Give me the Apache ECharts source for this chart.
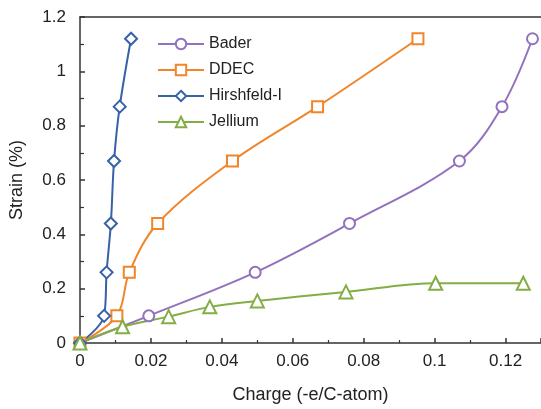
<!DOCTYPE html>
<html>
<head>
<meta charset="utf-8">
<script src="https://cdn.jsdelivr.net/npm/echarts@6/dist/echarts.min.js"></script>
<style>
  html, body { margin: 0; padding: 0; background: #fff; }
  #chart { width: 541px; height: 409px; }
</style>
</head>
<body>
<div id="chart"></div>
<script>
// charge (-e/C-atom) vs strain (%) for each charge scheme
const baderX = [0, 0.0194, 0.0494, 0.076, 0.107, 0.119, 0.1276];
const baderY = [0, 0.10, 0.26, 0.44, 0.67, 0.87, 1.12];
const ddecX = [0, 0.0104, 0.0139, 0.0219, 0.043, 0.067, 0.0953];
const ddecY = [0, 0.10, 0.26, 0.44, 0.67, 0.87, 1.12];
const hirshX = [0, 0.0068, 0.0075, 0.0087, 0.0096, 0.0112, 0.0144];
const hirshY = [0, 0.10, 0.26, 0.44, 0.67, 0.87, 1.12];
const jelliumX = [0, 0.012, 0.025, 0.0366, 0.050, 0.075, 0.1003, 0.125];
const jelliumY = [0, 0.06, 0.097, 0.133, 0.155, 0.188, 0.22, 0.22];

const pairs = (xs, ys) => xs.map((x, i) => [x, ys[i]]);

const font = "Liberation Sans, Arial, sans-serif";
const axisColor = "#333";

function makeSeries(name, data, color, symbol, size) {
  return {
    name: name,
    type: "line",
    data: data,
    smooth: 0.35,
    symbol: symbol,
    symbolSize: size,
    lineStyle: { color: color, width: 2 },
    itemStyle: { color: "#fff", borderColor: color, borderWidth: 2 },
    color: color,
  };
}

var myChart = echarts.init(document.getElementById("chart"));
myChart.setOption({
  animation: false,
  grid: { left: 79, top: 17, bottom: 63.5, right: -1.5 },
  legend: {
    orient: "vertical",
    left: 157,
    top: 36,
    padding: 0,
    itemWidth: 46,
    itemHeight: 13,
    itemGap: 10,
    textStyle: { fontFamily: font, fontSize: 16, color: "#222" },
  },
  xAxis: [
    {
      type: "value",
      min: 0,
      max: 0.13,
      interval: 0.02,
      name: "Charge (-e/C-atom)",
      nameLocation: "middle",
      nameGap: 43,
      nameTextStyle: { fontFamily: font, fontSize: 18, color: "#222" },
      axisLine: { show: true, lineStyle: { color: axisColor, width: 1.5 } },
      axisTick: { inside: true, length: 5, lineStyle: { color: axisColor, width: 1.5 } },
      minorTick: { show: true, splitNumber: 2, length: 3, lineStyle: { color: axisColor, width: 1.2 } },
      axisLabel: { fontFamily: font, fontSize: 17, color: "#222", margin: 10, showMaxLabel: false },
      splitLine: { show: false },
    },
    {
      type: "value",
      position: "top",
      min: 0,
      max: 0.13,
      axisLine: { show: true, lineStyle: { color: axisColor, width: 1.5 } },
      axisTick: { show: false },
      axisLabel: { show: false },
      splitLine: { show: false },
    },
  ],
  yAxis: {
    type: "value",
    min: 0,
    max: 1.2,
    interval: 0.2,
    name: "Strain (%)",
    nameLocation: "middle",
    nameGap: 54,
    nameTextStyle: { fontFamily: font, fontSize: 18, color: "#222" },
    axisLine: { show: true, lineStyle: { color: axisColor, width: 1.5 } },
    axisTick: { inside: true, length: 5, lineStyle: { color: axisColor, width: 1.5 } },
    minorTick: { show: true, splitNumber: 2, length: 4, lineStyle: { color: axisColor, width: 1.2 } },
    axisLabel: { fontFamily: font, fontSize: 17, color: "#222", margin: 14 },
    splitLine: { show: false },
  },
  series: [
    makeSeries("Bader", pairs(baderX, baderY), "#9272bd", "circle", 11),
    makeSeries("DDEC", pairs(ddecX, ddecY), "#f0852a", "rect", 11),
    makeSeries("Hirshfeld-I", pairs(hirshX, hirshY), "#3762a8", "diamond", 12),
    makeSeries("Jellium", pairs(jelliumX, jelliumY), "#83ad45", "triangle", 13),
  ],
});
</script>
</body>
</html>
